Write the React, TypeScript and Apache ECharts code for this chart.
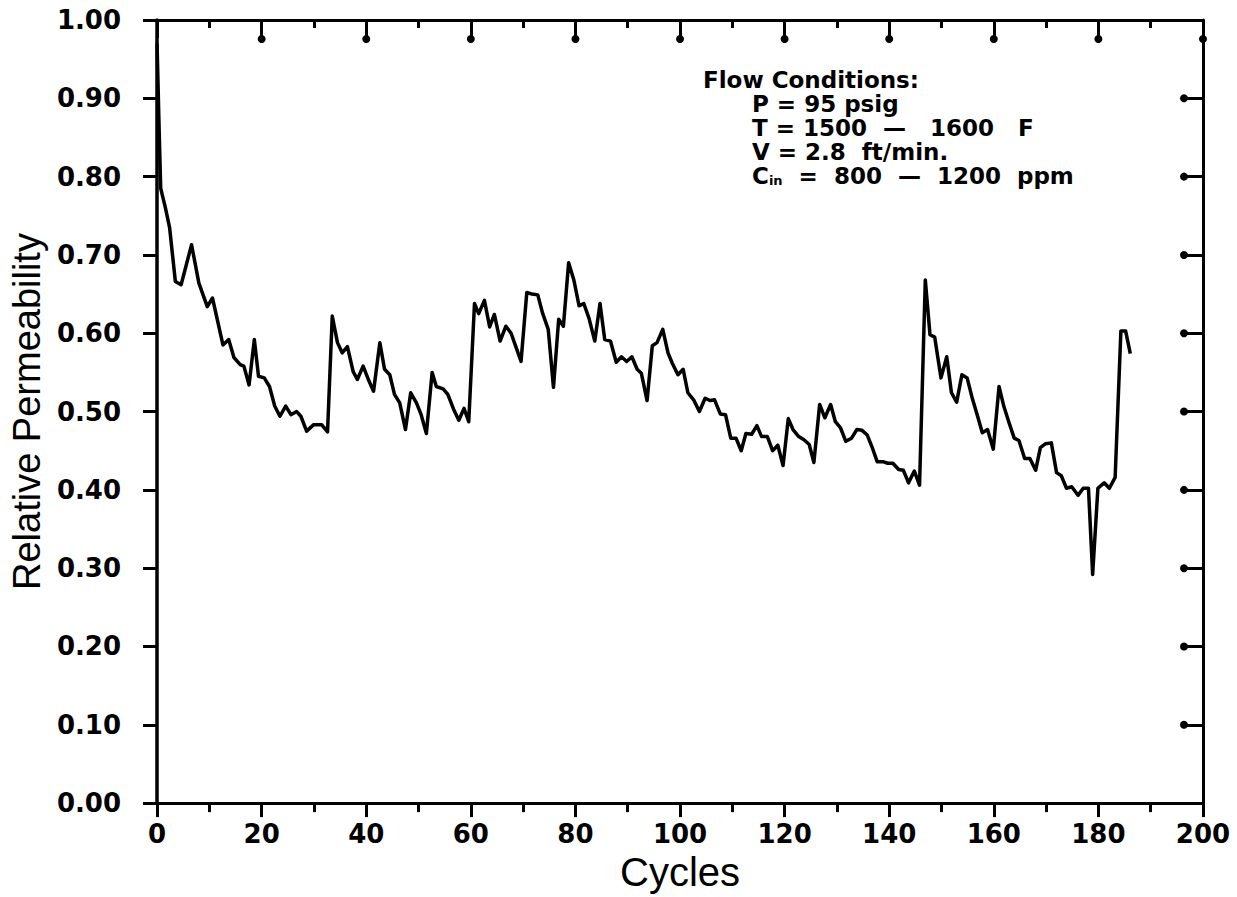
import React, { useEffect, useRef } from "react";
import * as echarts from "echarts";

const cycles = [
  0, 0.4, 0.7, 1.6, 2.4, 3.5, 4.6, 6.6, 8.0, 9.6, 10.6, 12.6, 13.7, 14.7, 15.9, 16.6, 17.6, 18.6, 19.4,
  20.5, 21.5, 22.5, 23.5, 24.6, 25.6, 26.7, 27.5, 28.6, 29.9, 31.5, 32.6, 33.5, 34.5, 35.4, 36.4, 37.5,
  38.3, 39.4, 40.4, 41.4, 42.6, 43.5, 44.5, 45.4, 46.4, 47.5, 48.5, 49.6, 50.5, 51.5, 52.6, 53.4, 54.7,
  55.6, 56.7, 57.7, 58.7, 59.6, 60.7, 61.5, 62.6, 63.6, 64.5, 65.6, 66.7, 67.7, 68.6, 69.6, 70.7, 71.7,
  72.8, 73.7, 74.8, 75.8, 76.8, 77.7, 78.7, 79.7, 80.7, 81.6, 82.6, 83.7, 84.7, 85.6, 86.7, 87.8, 88.8,
  89.8, 90.8, 91.8, 92.6, 93.7, 94.7, 95.6, 96.7, 97.7, 98.5, 99.6, 100.6, 101.5, 102.6, 103.7, 104.8,
  105.8, 106.6, 107.7, 108.7, 109.7, 110.7, 111.7, 112.6, 113.7, 114.7, 115.6, 116.7, 117.7, 118.7,
  119.7, 120.7, 121.6, 122.7, 123.7, 124.7, 125.6, 126.7, 127.7, 128.8, 129.7, 130.7, 131.7, 132.8,
  133.8, 134.8, 135.8, 136.7, 137.7, 138.8, 139.7, 140.7, 141.8, 142.7, 143.7, 144.8, 145.8, 146.9,
  147.8, 148.7, 149.9, 151.0, 151.9, 152.9, 153.9, 154.9, 155.8, 156.9, 157.8, 158.8, 159.9, 161.0,
  161.9, 162.9, 163.9, 164.8, 165.9, 166.9, 168.0, 168.9, 169.9, 171.0, 172.0, 172.9, 173.9, 174.9,
  176.1, 177.1, 178.1, 178.9, 179.9, 181.1, 182.1, 183.2, 184.3, 185.2, 186.1,
];

const permeability = [
  0.97, 0.86, 0.785, 0.76, 0.735, 0.666, 0.662, 0.713, 0.664, 0.634, 0.645, 0.585, 0.592, 0.569, 0.56,
  0.558, 0.534, 0.592, 0.545, 0.543, 0.532, 0.507, 0.494, 0.507, 0.496, 0.5, 0.494, 0.475, 0.483, 0.483,
  0.474, 0.622, 0.588, 0.575, 0.583, 0.551, 0.541, 0.558, 0.541, 0.526, 0.588, 0.554, 0.547, 0.522,
  0.511, 0.477, 0.524, 0.511, 0.496, 0.472, 0.55, 0.532, 0.529, 0.522, 0.503, 0.489, 0.504, 0.487,
  0.638, 0.625, 0.642, 0.608, 0.624, 0.59, 0.609, 0.6, 0.583, 0.564, 0.652, 0.65, 0.649, 0.626, 0.605,
  0.531, 0.618, 0.609, 0.69, 0.668, 0.635, 0.638, 0.619, 0.59, 0.638, 0.592, 0.59, 0.563, 0.57, 0.564,
  0.57, 0.554, 0.549, 0.514, 0.584, 0.588, 0.605, 0.575, 0.562, 0.547, 0.554, 0.524, 0.515, 0.5, 0.517,
  0.514, 0.515, 0.497, 0.496, 0.466, 0.466, 0.45, 0.472, 0.471, 0.482, 0.468, 0.468, 0.45, 0.457, 0.431,
  0.491, 0.477, 0.468, 0.464, 0.458, 0.435, 0.509, 0.492, 0.509, 0.487, 0.479, 0.462, 0.466, 0.477,
  0.476, 0.47, 0.455, 0.436, 0.436, 0.434, 0.434, 0.426, 0.425, 0.409, 0.424, 0.406, 0.668, 0.598,
  0.595, 0.543, 0.57, 0.524, 0.512, 0.547, 0.543, 0.519, 0.494, 0.473, 0.477, 0.452, 0.532, 0.507,
  0.486, 0.466, 0.463, 0.44, 0.44, 0.425, 0.454, 0.459, 0.46, 0.422, 0.418, 0.402, 0.404, 0.393, 0.402,
  0.402, 0.292, 0.402, 0.409, 0.402, 0.416, 0.603, 0.603, 0.574,
];

const topDotCycles = [20, 40, 60, 80, 100, 120, 140, 160, 180, 200];
const rightDotValues = [0.1, 0.2, 0.3, 0.4, 0.5, 0.6, 0.7, 0.8, 0.9];

const conditionTitle = "Flow Conditions:";
const conditionLines = ["P = 95 psig", "T = 1500  —   1600   F", "V = 2.8  ft/min."];
const concentrationLine = "  =  800  —  1200  ppm";

export default function App() {
  const ref = useRef<HTMLDivElement>(null);

  useEffect(() => {
    if (!ref.current) return;
    const chart = echarts.init(ref.current, null, { renderer: "svg" });
    const black = "#000";
    const tickFont = { fontFamily: "DejaVu Sans", fontWeight: "bold" as const, fontSize: 26, color: black };
    const textFont = "bold 23px 'DejaVu Sans'";

    chart.setOption({
      animation: false,
      backgroundColor: "#fff",
      grid: { left: 153, right: 34, top: 20, bottom: 92, containLabel: false },
      xAxis: [
        {
          type: "value",
          min: 0,
          max: 200,
          interval: 20,
          position: "bottom",
          axisLine: { show: true, onZero: false, lineStyle: { color: black, width: 3 } },
          axisTick: { show: true, inside: false, length: 14, lineStyle: { color: black, width: 3 } },
          minorTick: { show: true, splitNumber: 2, length: 9, lineStyle: { color: black, width: 3 } },
          splitLine: { show: false },
          axisLabel: { ...tickFont, margin: 18 },
          name: "Cycles",
          nameLocation: "middle",
          nameGap: 42,
          nameTextStyle: { fontFamily: "Liberation Sans", fontSize: 40, color: black },
        },
        {
          type: "value",
          min: 0,
          max: 200,
          interval: 20,
          position: "top",
          axisLine: { show: true, onZero: false, lineStyle: { color: black, width: 3 } },
          axisTick: { show: true, inside: true, length: 18, lineStyle: { color: black, width: 3 } },
          minorTick: { show: true, splitNumber: 2, length: 8, lineStyle: { color: black, width: 3 } },
          splitLine: { show: false },
          axisLabel: { show: false },
        },
      ],
      yAxis: [
        {
          type: "value",
          min: 0,
          max: 1,
          interval: 0.1,
          position: "left",
          axisLine: { show: true, onZero: false, lineStyle: { color: black, width: 3.5 } },
          axisTick: { show: true, inside: false, length: 14, lineStyle: { color: black, width: 3 } },
          splitLine: { show: false },
          axisLabel: { ...tickFont, margin: 36, formatter: (v: number) => v.toFixed(2) },
          name: "Relative Permeability",
          nameLocation: "middle",
          nameGap: 108,
          nameTextStyle: { fontFamily: "Liberation Sans", fontSize: 38, color: black },
        },
        {
          type: "value",
          min: 0,
          max: 1,
          interval: 0.1,
          position: "right",
          axisLine: { show: true, onZero: false, lineStyle: { color: black, width: 3 } },
          axisTick: { show: true, inside: true, length: 19, lineStyle: { color: black, width: 3 } },
          splitLine: { show: false },
          axisLabel: { show: false },
        },
      ],
      series: [
        {
          type: "line",
          xAxisIndex: 0,
          yAxisIndex: 0,
          data: cycles.map((c, i) => [c, permeability[i]]),
          symbol: "none",
          showSymbol: false,
          lineStyle: { color: black, width: 3.5, join: "round" },
          silent: true,
        },
        {
          type: "scatter",
          xAxisIndex: 1,
          yAxisIndex: 0,
          data: topDotCycles.map((c) => [c, 1]),
          symbol: "circle",
          symbolSize: 8,
          symbolOffset: [0, 19],
          itemStyle: { color: black, opacity: 1 },
          clip: false,
          silent: true,
        },
        {
          type: "scatter",
          xAxisIndex: 0,
          yAxisIndex: 1,
          data: rightDotValues.map((v) => [200, v]),
          symbol: "circle",
          symbolSize: 8,
          symbolOffset: [-19, 0],
          itemStyle: { color: black, opacity: 1 },
          clip: false,
          silent: true,
        },
      ],
      graphic: [
        {
          type: "text",
          left: 703,
          top: 68,
          style: { text: conditionTitle, font: textFont, fill: black },
        },
        ...conditionLines.map((t, i) => ({
          type: "text",
          left: 752,
          top: 92 + i * 24,
          style: { text: t, font: textFont, fill: black },
        })),
        {
          type: "text",
          left: 752,
          top: 164,
          style: {
            text: "{b|C}{s|in}{b|" + concentrationLine + "}",
            fill: black,
            rich: {
              b: { font: textFont, fill: black },
              s: { font: "bold 13px 'DejaVu Sans'", fill: black, verticalAlign: "bottom", padding: [10, 0, 0, 0] },
            },
          },
        },
      ],
    });

    return () => chart.dispose();
  }, []);

  return (
    <div
      ref={ref}
      style={{ position: "absolute", left: 0, top: 0, width: 1237, height: 897, background: "#fff" }}
    />
  );
}
